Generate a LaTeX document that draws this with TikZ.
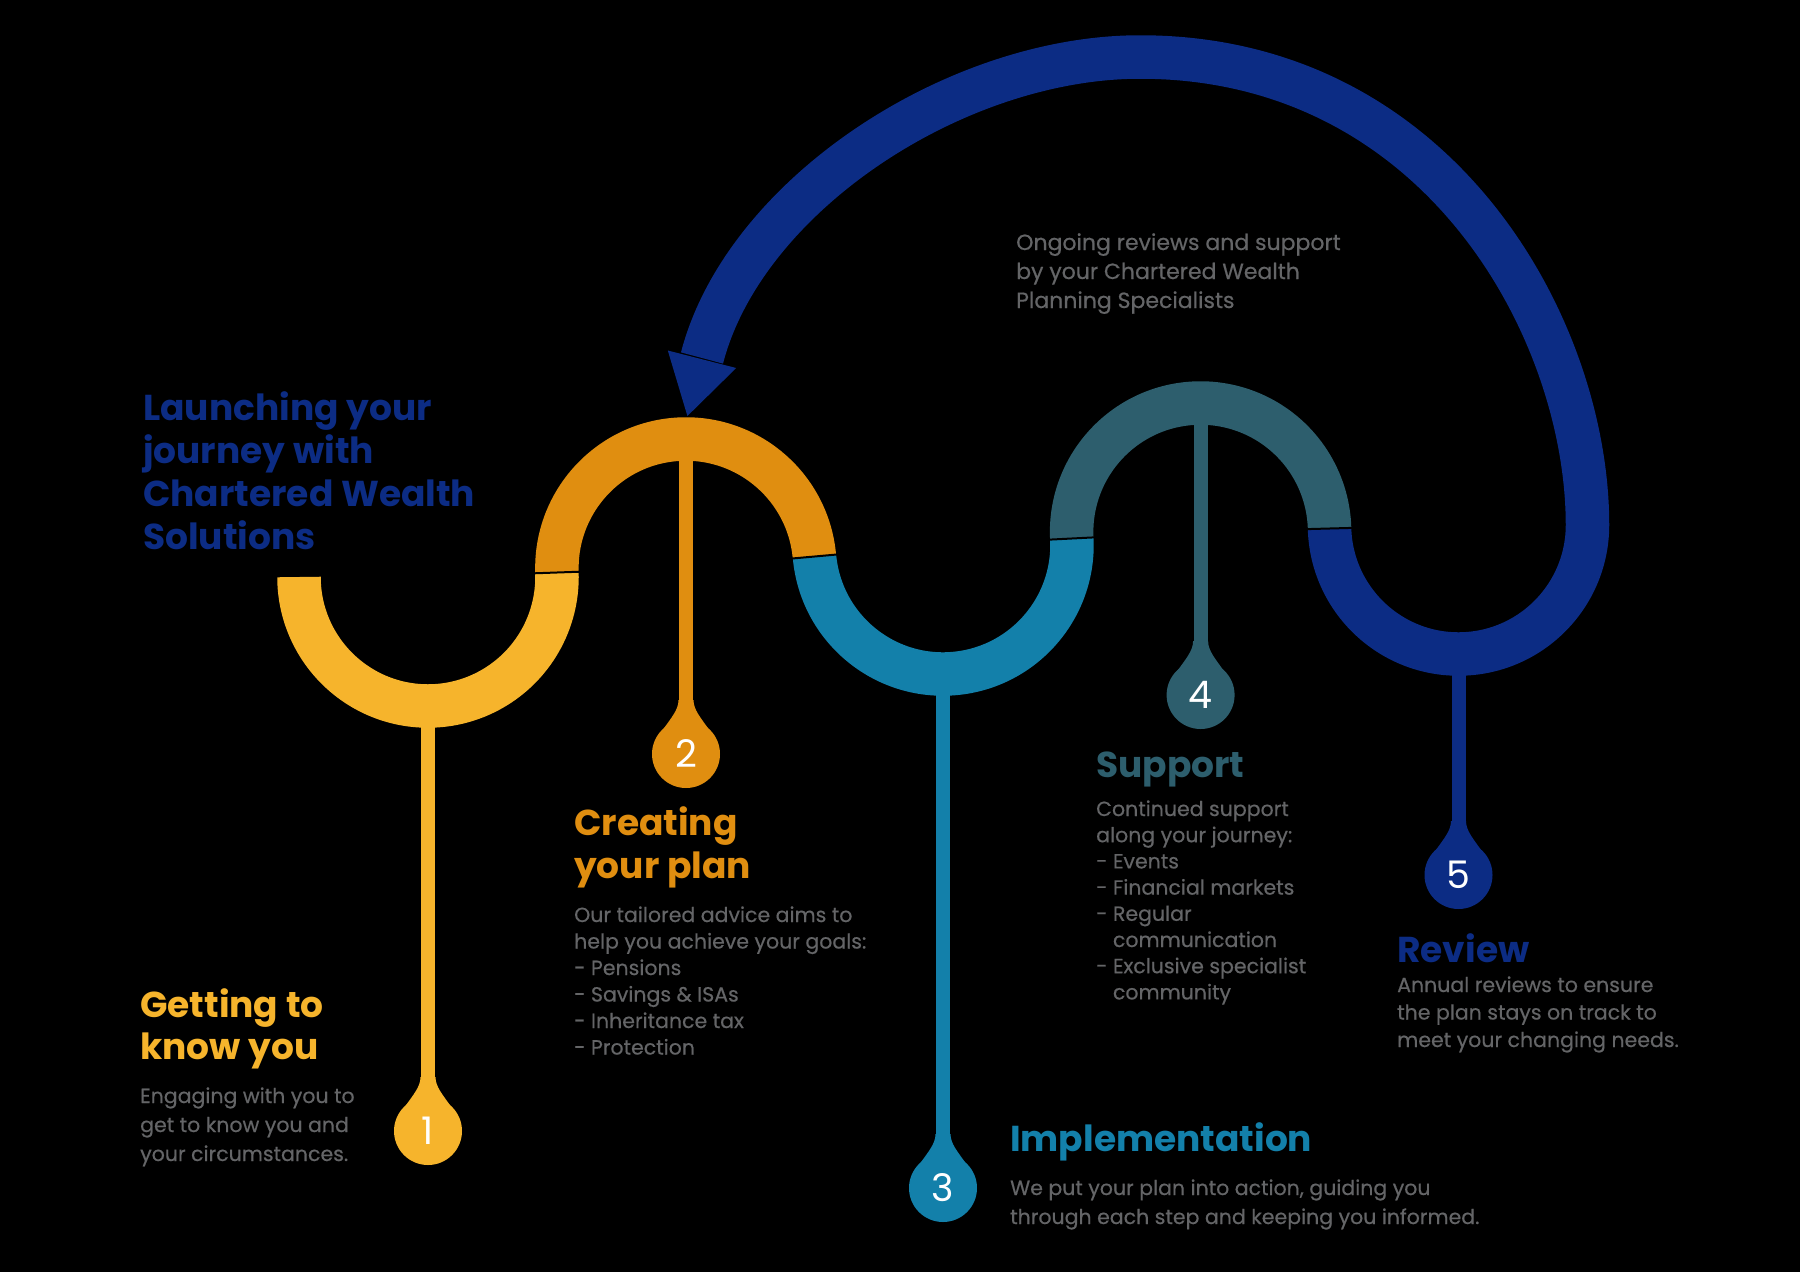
\documentclass[tikz,border=0pt]{standalone}
\usepackage{fontspec}
\setmainfont{Poppins}
\newfontfamily\medfont{Poppins}[FakeBold=0.5]
\usetikzlibrary{calc}
\definecolor{cY}{HTML}{F6B42C}
\definecolor{cO}{HTML}{E08E10}
\definecolor{cB}{HTML}{1380AA}
\definecolor{cT}{HTML}{2D5E6D}
\definecolor{cN}{HTML}{0C2C84}
\definecolor{cG}{HTML}{646567}
\newcommand\blocklines[6]{\foreach \tline [count=\i] in {#6} {\node[#5] (#1-\i) at (#2,{#3+(\i-1)*#4}) {\tline};}}
\newcommand\pinflare[2]{%
  \fill[#2] ($(#1)+(-7.5,-54)$) .. controls ($(#1)+(-7.5,-44)$) and ($(#1)+(-15,-36)$) .. ($(#1)+(-24,-23)$)
    -- ($(#1)+(24,-23)$) .. controls ($(#1)+(15,-36)$) and ($(#1)+(7.5,-44)$) .. ($(#1)+(7.5,-54)$) -- cycle;}
\begin{document}
\begin{tikzpicture}[x=1pt,y=-1pt]
\tikzset{
 band/.style={line width=43.5pt, line cap=butt, line join=round},
 jointline/.style={draw=black, line width=2pt},
 stemline/.style={line width=14pt},
 pinnode/.style={circle, minimum size=68pt, inner sep=0pt, text=white, font=\fontsize{38}{38}\selectfont},
 head/.style={anchor=base west, inner sep=0pt, font=\bfseries\fontsize{36}{36}\selectfont},
 body/.style={anchor=base west, inner sep=0pt, text=cG, font=\medfont\fontsize{20.5}{20.5}\selectfont},
 topbody/.style={anchor=base west, inner sep=0pt, text=cG, font=\medfont\fontsize{22}{22}\selectfont},
}
\fill[black] (0,0) rectangle (1800,1272);
\useasboundingbox (0,0) rectangle (1800,1272);

% centres of the wave arcs
\coordinate (C0) at (428,577);
\coordinate (C1) at (686,568);
\coordinate (C2) at (943,545);
\coordinate (C3) at (1200.6,532);
\coordinate (C4) at (1458.5,525);
\coordinate (J01) at ($(C0)!0.5!(C1)$);
\coordinate (J12) at ($(C1)!0.5!(C2)$);
\coordinate (J23) at ($(C2)!0.5!(C3)$);
\coordinate (J34) at ($(C3)!0.5!(C4)$);

% pins
\coordinate (q1) at (428,1131);
\coordinate (q2) at (686,754);
\coordinate (q3) at (943,1188);
\coordinate (q4) at (1200.6,695);
\coordinate (q5) at (1458.5,875);
\coordinate (s1) at (428,700);
\coordinate (s2) at (686,450);
\coordinate (s3) at (943,670);
\coordinate (s4) at (1200.6,415);
\coordinate (s5) at (1458.5,650);

\draw[stemline, cY] (s1) -- (q1);
\draw[stemline, cO] (s2) -- (q2);
\draw[stemline, cB] (s3) -- (q3);
\draw[stemline, cT] (s4) -- (q4);
\draw[stemline, cN] (s5) -- (q5);

% wave
\draw[band, cY] (299,577) arc[start angle=180, end angle=-2.0, radius=129];
\draw[band, cO] (J01) arc[start angle=178.0, end angle=354.89, radius=129];
\draw[band, cB] (J12) arc[start angle=174.89, end angle=-2.89, radius=129];
\draw[band, cT] (J23) arc[start angle=177.11, end angle=358.45, radius=129];
\draw[band, cN] (J34) arc[start angle=178.45, end angle=0, radius=129]
   .. controls (1587.5,330) and (1440,57) .. (1140,57)
   .. controls (955,57) and (744,196) .. (702,358);
\fill[cN] (736.2,368) -- (687.4,416) -- (667.8,350.5) -- cycle;

\draw[jointline] ($(J01)!23pt!(C0)$) -- ($(J01)!23pt!(C1)$);
\draw[jointline] ($(J12)!23pt!(C1)$) -- ($(J12)!23pt!(C2)$);
\draw[jointline] ($(J23)!23pt!(C2)$) -- ($(J23)!23pt!(C3)$);
\draw[jointline] ($(J34)!23pt!(C3)$) -- ($(J34)!23pt!(C4)$);

\pinflare{q1}{cY}
\pinflare{q2}{cO}
\pinflare{q3}{cB}
\pinflare{q4}{cT}
\pinflare{q5}{cN}
\node[pinnode, fill=cY] (p1) at (q1) {1};
\node[pinnode, fill=cO] (p2) at (q2) {2};
\node[pinnode, fill=cB] (p3) at (q3) {3};
\node[pinnode, fill=cT] (p4) at (q4) {4};
\node[pinnode, fill=cN] (p5) at (q5) {5};

% texts
\blocklines{title}{143}{420}{43}{head, text=cN}{Launching your, journey with, Chartered Wealth, Solutions}
\blocklines{top}{1016}{250}{29}{topbody}{Ongoing reviews and support, by your Chartered Wealth, Planning Specialists}

\blocklines{h1}{140}{1017}{42}{head, text=cY}{Getting to, know you}
\blocklines{b1}{140}{1103}{29}{body}{Engaging with you to, get to know you and, your circumstances.}

\blocklines{h2}{574}{835}{43}{head, text=cO}{Creating, your plan}
\blocklines{b2}{574}{922}{26.5}{body}{Our tailored advice aims to, help you achieve your goals:, - Pensions, - Savings \& ISAs, - Inheritance tax, - Protection}

\blocklines{h3}{1010}{1151}{43}{head, text=cB}{Implementation}
\blocklines{b3}{1010}{1195}{29}{body}{{We put your plan into action, guiding you}, through each step and keeping you informed.}

\blocklines{h4}{1096}{777}{43}{head, text=cT}{Support}
\blocklines{b4}{1096}{816}{26.2}{body}{Continued support, along your journey:, - Events, - Financial markets, - Regular, \phantom{- }communication, - Exclusive specialist, \phantom{- }community}

\blocklines{h5}{1397}{962}{43}{head, text=cN}{Review}
\blocklines{b5}{1397}{992}{27.5}{body}{Annual reviews to ensure, the plan stays on track to, meet your changing needs.}
\end{tikzpicture}
\end{document}
